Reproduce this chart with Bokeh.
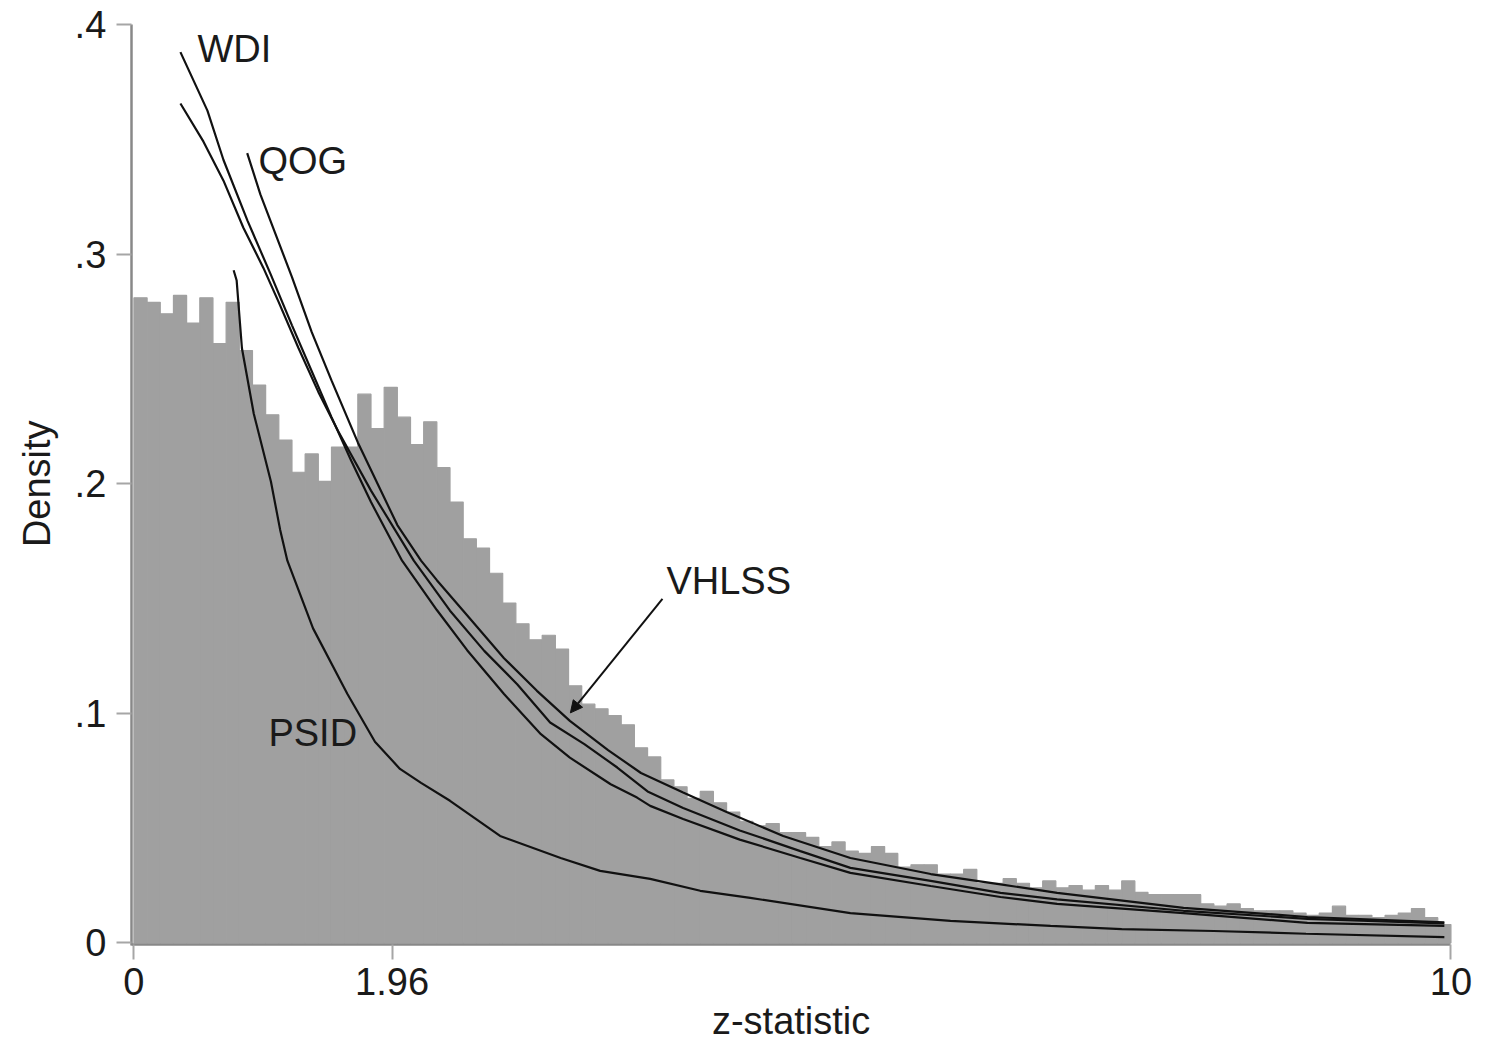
import math
from bokeh.plotting import figure
from bokeh.models import FixedTicker, Arrow, NormalHead, ColumnDataSource
from bokeh.embed import file_html
from bokeh.resources import INLINE
from bokeh.core.properties import value

# ---------------- data ----------------
bin_start = 0.0
bin_width = 0.1
density = [
    0.281, 0.279, 0.274, 0.282, 0.270, 0.281, 0.261, 0.279, 0.258, 0.243,
    0.230, 0.219, 0.205, 0.213, 0.201, 0.216, 0.216, 0.239, 0.224, 0.242,
    0.229, 0.217, 0.227, 0.207, 0.192, 0.176, 0.172, 0.161, 0.148, 0.139,
    0.132, 0.134, 0.128, 0.112, 0.104, 0.102, 0.099, 0.095, 0.085, 0.081,
    0.071, 0.068, 0.063, 0.066, 0.061, 0.057, 0.053, 0.051, 0.052, 0.048,
    0.048, 0.046, 0.042, 0.044, 0.040, 0.039, 0.042, 0.039, 0.033, 0.034,
    0.034, 0.030, 0.030, 0.032, 0.026, 0.026, 0.028, 0.026, 0.024, 0.027,
    0.024, 0.025, 0.023, 0.025, 0.023, 0.027, 0.022, 0.021, 0.021, 0.021,
    0.021, 0.017, 0.016, 0.017, 0.015, 0.014, 0.014, 0.014, 0.013, 0.012,
    0.013, 0.016, 0.012, 0.012, 0.011, 0.012, 0.013, 0.015, 0.011, 0.008,
]

wdi_x = [0.353, 0.558, 0.68, 0.862, 1.036, 1.20, 1.35, 1.50, 1.65, 1.80, 2.036, 2.30, 2.53,
         2.81, 3.09, 3.31, 3.62, 3.82, 3.92, 4.17, 4.60, 5.06, 5.44, 6.05, 6.58, 7.01, 7.97, 8.91, 9.95]
wdi_y = [0.388, 0.3625, 0.341, 0.3146, 0.2915, 0.269, 0.249, 0.229, 0.210, 0.192, 0.1665, 0.145, 0.1275,
         0.1084, 0.0909, 0.0807, 0.0691, 0.0633, 0.0597, 0.054, 0.045, 0.037, 0.0305, 0.0248, 0.020, 0.017,
         0.013, 0.0087, 0.0074]

vhlss_x = [0.353, 0.528, 0.68, 0.831, 0.983, 1.10, 1.25, 1.40, 1.55, 1.80, 2.125, 2.40, 2.66, 2.91,
           3.16, 3.42, 3.67, 3.90, 4.17, 4.60, 5.06, 5.44, 6.05, 6.58, 7.01, 7.97, 8.91, 9.95]
vhlss_y = [0.3656, 0.349, 0.332, 0.3115, 0.294, 0.279, 0.259, 0.240, 0.223, 0.197, 0.1665, 0.1447, 0.1272,
           0.1127, 0.096, 0.0866, 0.0764, 0.066, 0.0588, 0.049, 0.040, 0.0327, 0.027, 0.0218, 0.019, 0.014,
           0.0105, 0.0085]

qog_x = [0.86, 0.96, 1.06, 1.20, 1.35, 1.50, 1.70, 2.00, 2.18, 2.30, 2.50, 2.81, 3.06, 3.31, 3.60, 3.85,
         4.17, 4.50, 4.93, 5.44, 6.05, 6.58, 7.01, 7.97, 8.91, 9.95]
qog_y = [0.344, 0.326, 0.311, 0.290, 0.266, 0.245, 0.218, 0.182, 0.1665, 0.158, 0.1447, 0.124, 0.1098,
         0.0967, 0.084, 0.074, 0.0655, 0.057, 0.0466, 0.037, 0.030, 0.0255, 0.0218, 0.0153, 0.0113, 0.0090]

psid_x = [0.757, 0.78, 0.82, 0.91, 1.04, 1.11, 1.165, 1.36, 1.62, 1.83, 2.02, 2.18, 2.40, 2.78, 3.24, 3.54,
          3.92, 4.30, 4.68, 5.44, 6.20, 6.96, 7.50, 8.20, 8.90, 9.95]
psid_y = [0.293, 0.2885, 0.259, 0.2305, 0.201, 0.180, 0.1665, 0.137, 0.1085, 0.0876, 0.0758, 0.0697, 0.0619,
          0.0466, 0.037, 0.0314, 0.0279, 0.0227, 0.0196, 0.013, 0.0096, 0.0074, 0.006, 0.0052, 0.004, 0.0025]

labels = ["WDI", "QOG", "VHLSS", "PSID"]
label_x = [0.482, 0.945, 4.043, 1.021]
label_y = [0.3895, 0.3407, 0.1577, 0.0915]

arrow_from = (4.013, 0.1499)
arrow_to = (3.314, 0.1002)

x_ticks = [0, 1.96, 10]
x_tick_labels = ["0", "1.96", "10"]
y_ticks = [0, 0.1, 0.2, 0.3, 0.4]
y_tick_labels = ["0", ".1", ".2", ".3", ".4"]
x_title = "z-statistic"
y_title = "Density"

x_lo, x_hi = 0.0, 10.0
y_lo, y_hi = 0.0, 0.4

# ---------------- figure ----------------
FONT = "Liberation Sans"
TXT = "#1a1a1a"
FS = "38px"

W, H = 1488, 1042

# The frame covers almost the whole canvas; axes are pinned at the data origin
# so that the axis titles can sit close to the canvas edges, as in the original.
p = figure(width=W, height=H, output_backend="svg", toolbar_location=None,
           x_range=(-0.998, 10.27), y_range=(-0.0425, 0.4096),
           min_border_left=2, min_border_right=2, min_border_top=2, min_border_bottom=2)
p.outline_line_color = None
p.xgrid.visible = False
p.ygrid.visible = False
p.background_fill_color = "white"
p.border_fill_color = "white"

lefts = [bin_start + i * bin_width for i in range(len(density))]
rights = [l + bin_width for l in lefts]
p.quad(left=lefts, right=rights, bottom=0, top=density,
       fill_color="#a0a0a0", line_color="#a0a0a0", line_width=1.2)

for xs, ys in [(psid_x, psid_y), (qog_x, qog_y), (vhlss_x, vhlss_y), (wdi_x, wdi_y)]:
    p.line(xs, ys, line_color="#111111", line_width=2.2)

src = ColumnDataSource(dict(x=label_x, y=label_y, t=labels))
p.text(x="x", y="y", text="t", source=src, text_font=value(FONT), text_font_size=FS,
       text_color=TXT, text_align="left", text_baseline="middle")

p.add_layout(Arrow(end=NormalHead(size=12, fill_color="#111111", line_color="#111111"),
                   x_start=arrow_from[0], y_start=arrow_from[1],
                   x_end=arrow_to[0], y_end=arrow_to[1],
                   line_color="#111111", line_width=2))

for ax in (p.xaxis[0], p.yaxis[0]):
    ax.axis_line_color = "#888888"
    ax.axis_line_width = 2.5
    ax.major_tick_line_color = "#a6a6a6"
    ax.major_tick_line_width = 2
    ax.major_tick_out = 15
    ax.major_tick_in = 0
    ax.minor_tick_line_color = None
    ax.major_label_text_font = FONT
    ax.major_label_text_font_size = FS
    ax.major_label_text_color = TXT

p.xaxis.ticker = FixedTicker(ticks=x_ticks)
p.xaxis.major_label_overrides = {t: l for t, l in zip(x_ticks, x_tick_labels)}
p.xaxis.fixed_location = -0.0005
p.xaxis.bounds = (x_lo - 0.02, x_hi)
p.xaxis.major_label_standoff = 9

p.yaxis.ticker = FixedTicker(ticks=y_ticks)
p.yaxis.major_label_overrides = {t: l for t, l in zip(y_ticks, y_tick_labels)}
p.yaxis.major_label_orientation = "horizontal"
p.yaxis.fixed_location = x_lo - 0.02
p.yaxis.bounds = (y_lo - 0.001, y_hi)
p.yaxis.major_label_standoff = 10

# axis titles
p.text(x=[(x_lo + x_hi) / 2 - 0.01], y=[-0.0338], text=[x_title], text_font=value(FONT),
       text_font_size=FS, text_color=TXT, text_align="center", text_baseline="middle")
p.text(x=[-0.733], y=[(y_lo + y_hi) / 2], text=[y_title], text_font=value(FONT),
       text_font_size=FS, text_color=TXT, text_align="center", text_baseline="middle",
       angle=math.pi / 2)

open("out.html", "w").write(file_html(p, INLINE))
